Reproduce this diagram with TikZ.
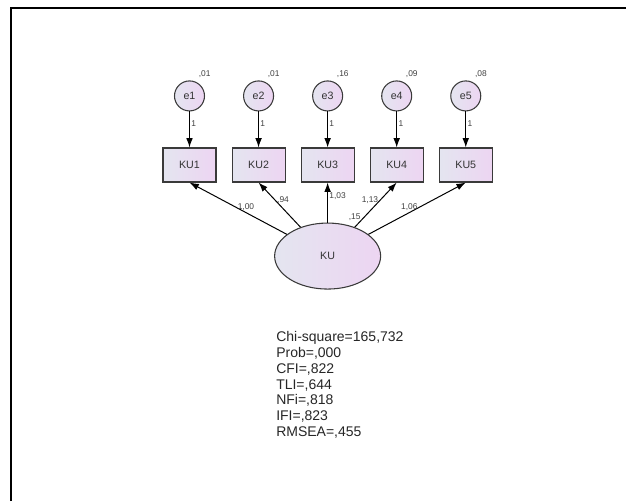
\documentclass[tikz,border=0pt]{standalone}
\usepackage{fontspec}
\setmainfont{Liberation Sans}
\usetikzlibrary{shapes.geometric, arrows.meta, positioning}
\definecolor{semleft}{HTML}{E4E5F0}
\definecolor{semright}{HTML}{EDD5F2}
\definecolor{semdraw}{HTML}{3A3A3A}

\begin{document}
\begin{tikzpicture}[x=0.75pt, y=0.75pt,
    obsblock/.style={rectangle, draw=semdraw, left color=semleft, right color=semright, line width=0.8pt, minimum width=39.75pt, minimum height=25.5pt, inner sep=0pt, font=\fontsize{8}{9.5}\selectfont, text=black!80},
    errblock/.style={circle, draw=semdraw, left color=semleft, right color=semright, line width=0.8pt, minimum size=22.5pt, inner sep=0pt, font=\fontsize{8}{9.5}\selectfont, text=black!80},
    latblock/.style={ellipse, draw=semdraw, left color=semleft, right color=semright, line width=0.8pt, minimum width=79.5pt, minimum height=49.5pt, inner sep=0pt, font=\fontsize{8}{9.5}\selectfont, text=black!80},
    est/.style={font=\fontsize{6.3}{7.5}\selectfont, text=black!75, inner sep=1pt},
    line/.style={draw, -{Latex[length=7pt, width=5pt]}, line width=0.75pt}]
    \useasboundingbox (0,0) rectangle (626,501);
    \draw [line width=1.6pt] (11,0) -- (11,493) -- (626,493);
    % observed indicators
    \node [obsblock] at (189.5,336) (ku1) {KU1};
    \node [obsblock, right=11.25pt of ku1] (ku2) {KU2};
    \node [obsblock, right=11.25pt of ku2] (ku3) {KU3};
    \node [obsblock, right=11.25pt of ku3] (ku4) {KU4};
    \node [obsblock, right=11.25pt of ku4] (ku5) {KU5};
    % error terms
    \node [errblock, above=27pt of ku1, label={[est, label distance=2pt]65:{,01}}] (e1) {e1};
    \node [errblock, above=27pt of ku2, label={[est, label distance=2pt]65:{,01}}] (e2) {e2};
    \node [errblock, above=27pt of ku3, label={[est, label distance=2pt]65:{,16}}] (e3) {e3};
    \node [errblock, above=27pt of ku4, label={[est, label distance=2pt]65:{,09}}] (e4) {e4};
    \node [errblock, above=27pt of ku5, label={[est, label distance=2pt]65:{,08}}] (e5) {e5};
    % latent factor
    \node [latblock, below=30pt of ku3, label={[est, label distance=2pt]60:{,15}}] (ku) {KU};
    \path [line] (e1) -- node [est, right, pos=0.35] {1} (ku1);
    \path [line] (e2) -- node [est, right, pos=0.35] {1} (ku2);
    \path [line] (e3) -- node [est, right, pos=0.35] {1} (ku3);
    \path [line] (e4) -- node [est, right, pos=0.35] {1} (ku4);
    \path [line] (e5) -- node [est, right, pos=0.35] {1} (ku5);
    \path [line] (ku) -- node [est, above, pos=0.42] {1,00} (ku1.south);
    \path [line] (ku) -- node [est, right, pos=0.6] {,94} (ku2.south);
    \path [line] (ku) -- node [est, right, pos=0.65] {1,03} (ku3.south);
    \path [line] (ku) -- node [est, left, pos=0.6] {1,13} (ku4.south);
    \path [line] (ku) -- node [est, above, pos=0.42] {1,06} (ku5.south);
    % fit indices
    \node [anchor=north west, align=left, inner sep=0pt, font=\fontsize{10.5}{11.9}\selectfont, text=black!85] at (276,170) (fit) {Chi-square=165,732\\Prob=,000\\CFI=,822\\TLI=,644\\NFi=,818\\IFI=,823\\RMSEA=,455};
\end{tikzpicture}
\end{document}
